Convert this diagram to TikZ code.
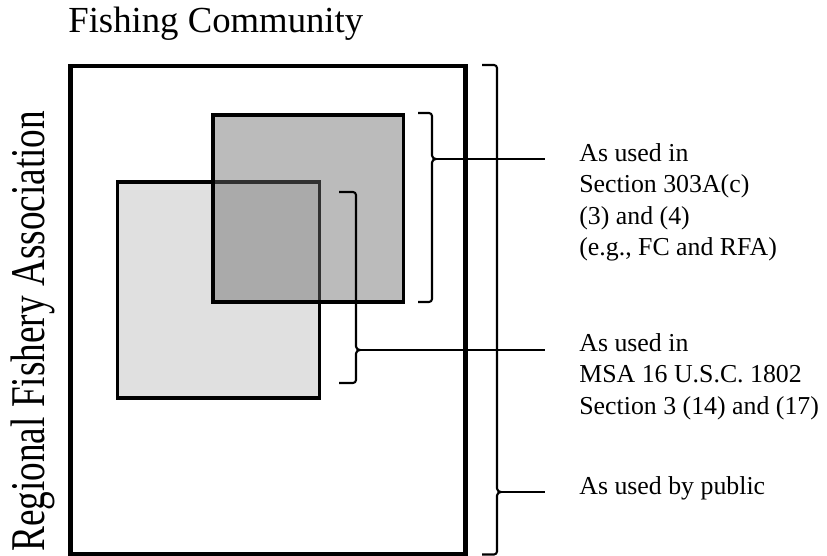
\documentclass[tikz,border=0pt]{standalone}
\usepackage{fontspec}
\setmainfont{Liberation Serif}

\begin{document}
\begin{tikzpicture}[
		frame/.style={line width=2.5pt},
		square/.style={draw=black, line width=1.8pt},
		bracket/.style={line width=1.2pt, line join=round},
		lead/.style={line width=1.1pt},
		note/.style={anchor=north west, inner sep=0pt, align=left, font=\fontsize{14.7}{17.9}\selectfont},
	]
		\useasboundingbox (0,0) rectangle (16.54,11.12);
		
		% the community and the two overlapping sets
		\draw[frame] (1.41,0.03) rectangle (9.31,9.80);
		\draw[square, fill=black!12] (2.35,3.16) rectangle (6.39,7.48);
		\draw[square, fill=black!58, fill opacity=0.46] (4.26,5.08) rectangle (8.07,8.82);
		
		\node[anchor=base west, inner sep=0pt, font=\fontsize{20.9}{25}\selectfont] (fc) at (1.36,10.46) {Fishing Community};
		\node[rotate=90, yscale=1.3, anchor=base west, inner sep=0pt, font=\fontsize{21.2}{25}\selectfont] (rfa) at (0.90,0.08) {Regional Fishery Association};
		
		\coordinate (tip303) at (8.72,7.94);
		\coordinate (tipmsa) at (7.20,4.12);
		\coordinate (tippub) at (10.02,1.28);
		\coordinate (end303) at (10.90,7.94);
		\coordinate (endmsa) at (10.90,4.12);
		\coordinate (endpub) at (10.90,1.28);
		
		% brackets
		\draw[bracket] (8.36,8.86) -- (8.58,8.86) to[out=0,in=90] (8.64,8.80) -- (8.64,8.01)
			to[out=-90,in=180] (tip303) to[out=180,in=90] (8.64,7.87) -- (8.64,5.14)
			to[out=-90,in=0] (8.58,5.08) -- (8.36,5.08);
		\draw[bracket] (6.78,7.28) -- (7.06,7.28) to[out=0,in=90] (7.12,7.22) -- (7.12,4.19)
			to[out=-90,in=180] (tipmsa) to[out=180,in=90] (7.12,4.05) -- (7.12,3.52)
			to[out=-90,in=0] (7.06,3.46) -- (6.78,3.46);
		\draw[bracket] (9.64,9.82) -- (9.88,9.82) to[out=0,in=90] (9.94,9.76) -- (9.94,1.35)
			to[out=-90,in=180] (tippub) to[out=180,in=90] (9.94,1.21) -- (9.94,0.09)
			to[out=-90,in=0] (9.88,0.03) -- (9.64,0.03);
		
		\draw[lead] (tip303) -- (end303);
		\draw[lead] (tipmsa) -- (endmsa);
		\draw[lead] (tippub) -- (endpub);
		
		\node[note] (sec303) at (11.58,8.26) {As used in\\Section 303A(c)\\(3) and (4)\\(e.g., FC and RFA)};
		\node[note] (msa) at (11.58,4.46) {As used in\\MSA 16 U.S.C. 1802\\Section 3 (14) and (17)};
		\node[note] (public) at (11.58,1.60) {As used by public};
	\end{tikzpicture}
\end{document}
